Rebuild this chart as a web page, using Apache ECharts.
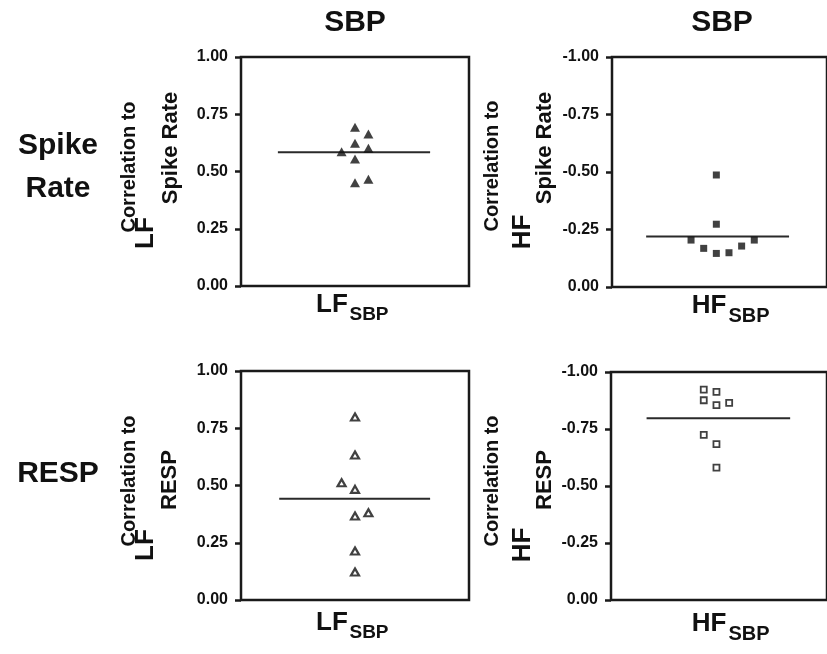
<!DOCTYPE html>
<html>
<head>
<meta charset="utf-8">
<script src="https://cdn.jsdelivr.net/npm/echarts@6/dist/echarts.min.js"></script>
<style>
  html, body { margin: 0; padding: 0; background: #fff; }
  #chart { width: 827px; height: 654px; }
</style>
</head>
<body>
<div id="chart"></div>
<script>
// --- data ---
// x = jitter slot within the column, y = correlation value
const lfSpikeX = [0, 1, 0, -1, 1, 0, 0, 1];
const lfSpikeY = [0.693, 0.664, 0.623, 0.586, 0.601, 0.555, 0.451, 0.466];
const lfSpikeMean = 0.584;

const hfSpikeX = [-0.25, -0.25, -2.25, -1.25, -0.25, 0.75, 1.75, 2.75];
const hfSpikeY = [-0.487, -0.273, -0.204, -0.168, -0.146, -0.149, -0.178, -0.204];
const hfSpikeMean = -0.220;

const lfRespX = [0, 0, -1, 0, 0, 1, 0, 0];
const lfRespY = [0.799, 0.633, 0.512, 0.483, 0.367, 0.381, 0.214, 0.122];
const lfRespMean = 0.442;

const hfRespX = [-1.2, -0.2, -1.2, -0.2, 0.8, -1.2, -0.2, -0.2];
const hfRespY = [-0.923, -0.913, -0.876, -0.855, -0.865, -0.724, -0.684, -0.581];
const hfRespMean = -0.797;

// x extent of the mean lines (slot units)
const meanSpan = [[-5.75, 5.6], [-5.8, 5.5], [-5.65, 5.6], [-5.7, 5.6]];

const FONT = '"Liberation Sans", Arial, Helvetica, sans-serif';
const INK = '#111';
const FRAME = '#1a1a1a';

const chart = echarts.init(document.getElementById('chart'));

const grids = [
    { left: 241, top: 57, width: 228, height: 229 },
    { left: 612, top: 57, width: 228, height: 230 },
    { left: 241, top: 371, width: 228, height: 229 },
    { left: 611, top: 372, width: 228, height: 228 }
].map(g => Object.assign(g, {
    show: true, borderColor: FRAME, borderWidth: 2.5, backgroundColor: 'transparent'
}));

const xAxes = grids.map((g, i) => ({
    gridIndex: i, type: 'value', min: -8.5, max: 8.5, show: false
}));

const yAxes = grids.map((g, i) => {
    const neg = (i % 2 === 1);
    return {
        gridIndex: i,
        type: 'value',
        position: 'left',
        min: neg ? -1 : 0,
        max: neg ? 0 : 1,
        interval: 0.25,
        inverse: neg,
        axisLine: { show: false, onZero: false },
        axisTick: { show: true, length: 6, lineStyle: { color: FRAME, width: 2.5 } },
        splitLine: { show: false },
        axisLabel: {
            margin: 13,
            color: INK,
            fontFamily: FONT,
            fontWeight: 'bold',
            fontSize: 16,
            formatter: v => (Math.abs(v) < 1e-9 ? 0 : v).toFixed(2)
        }
    };
});

function pts(xs, ys) {
    return xs.map((x, i) => [x, ys[i]]);
}

function meanLine(i, m) {
    return {
        type: 'line', xAxisIndex: i, yAxisIndex: i,
        data: [[meanSpan[i][0], m], [meanSpan[i][1], m]],
        showSymbol: false, symbol: 'none', silent: true,
        lineStyle: { color: '#2a2a2a', width: 2 }, z: 2
    };
}

const series = [
    meanLine(0, lfSpikeMean),
    {
        type: 'scatter', xAxisIndex: 0, yAxisIndex: 0, data: pts(lfSpikeX, lfSpikeY),
        symbol: 'triangle', symbolSize: [10, 9], itemStyle: { color: INK }, z: 3
    },
    meanLine(1, hfSpikeMean),
    {
        type: 'scatter', xAxisIndex: 1, yAxisIndex: 1, data: pts(hfSpikeX, hfSpikeY),
        symbol: 'rect', symbolSize: 7, itemStyle: { color: INK }, z: 3
    },
    meanLine(2, lfRespMean),
    {
        type: 'scatter', xAxisIndex: 2, yAxisIndex: 2, data: pts(lfRespX, lfRespY),
        symbol: 'triangle', symbolSize: [8, 7],
        itemStyle: { color: '#fff', borderColor: INK, borderWidth: 2.2 }, z: 3
    },
    meanLine(3, hfRespMean),
    {
        type: 'scatter', xAxisIndex: 3, yAxisIndex: 3, data: pts(hfRespX, hfRespY),
        symbol: 'rect', symbolSize: 6,
        itemStyle: { color: '#fff', borderColor: INK, borderWidth: 1.8 }, z: 3
    }
];

// text helper for the free labels
function txt(x, y, text, size, rot) {
    return {
        type: 'text', x: x, y: y, rotation: rot ? Math.PI / 2 : 0, silent: true,
        style: {
            text: text, fill: INK, font: 'bold ' + size + 'px ' + FONT,
            align: 'center', verticalAlign: 'middle',
            textAlign: 'center', textVerticalAlign: 'middle'
        }
    };
}

const graphic = [
    txt(355, 23, 'SBP', 30),
    txt(722, 23, 'SBP', 30),
    txt(58, 146, 'Spike', 30),
    txt(58, 189, 'Rate', 30),
    txt(58, 474, 'RESP', 30),

    // y titles, top row
    txt(129, 167, 'Correlation to', 20, true),
    txt(146, 233, 'LF', 26, true),
    txt(171, 148, 'Spike Rate', 22, true),
    txt(492, 166, 'Correlation to', 20, true),
    txt(523, 232, 'HF', 26, true),
    txt(545, 148, 'Spike Rate', 22, true),

    // y titles, bottom row
    txt(129, 481, 'Correlation to', 20, true),
    txt(146, 545, 'LF', 26, true),
    txt(170, 480, 'RESP', 22, true),
    txt(492, 481, 'Correlation to', 20, true),
    txt(523, 545, 'HF', 26, true),
    txt(545, 480, 'RESP', 22, true),

    // x titles
    txt(332, 305, 'LF', 26),
    txt(369, 315, 'SBP', 19),
    txt(709, 306, 'HF', 26),
    txt(749, 316, 'SBP', 20),
    txt(332, 623, 'LF', 26),
    txt(369, 633, 'SBP', 19),
    txt(709, 624, 'HF', 26),
    txt(749, 634, 'SBP', 20)
];

chart.setOption({
    animation: false,
    backgroundColor: '#fff',
    grid: grids,
    xAxis: xAxes,
    yAxis: yAxes,
    series: series,
    graphic: graphic
});
</script>
</body>
</html>
